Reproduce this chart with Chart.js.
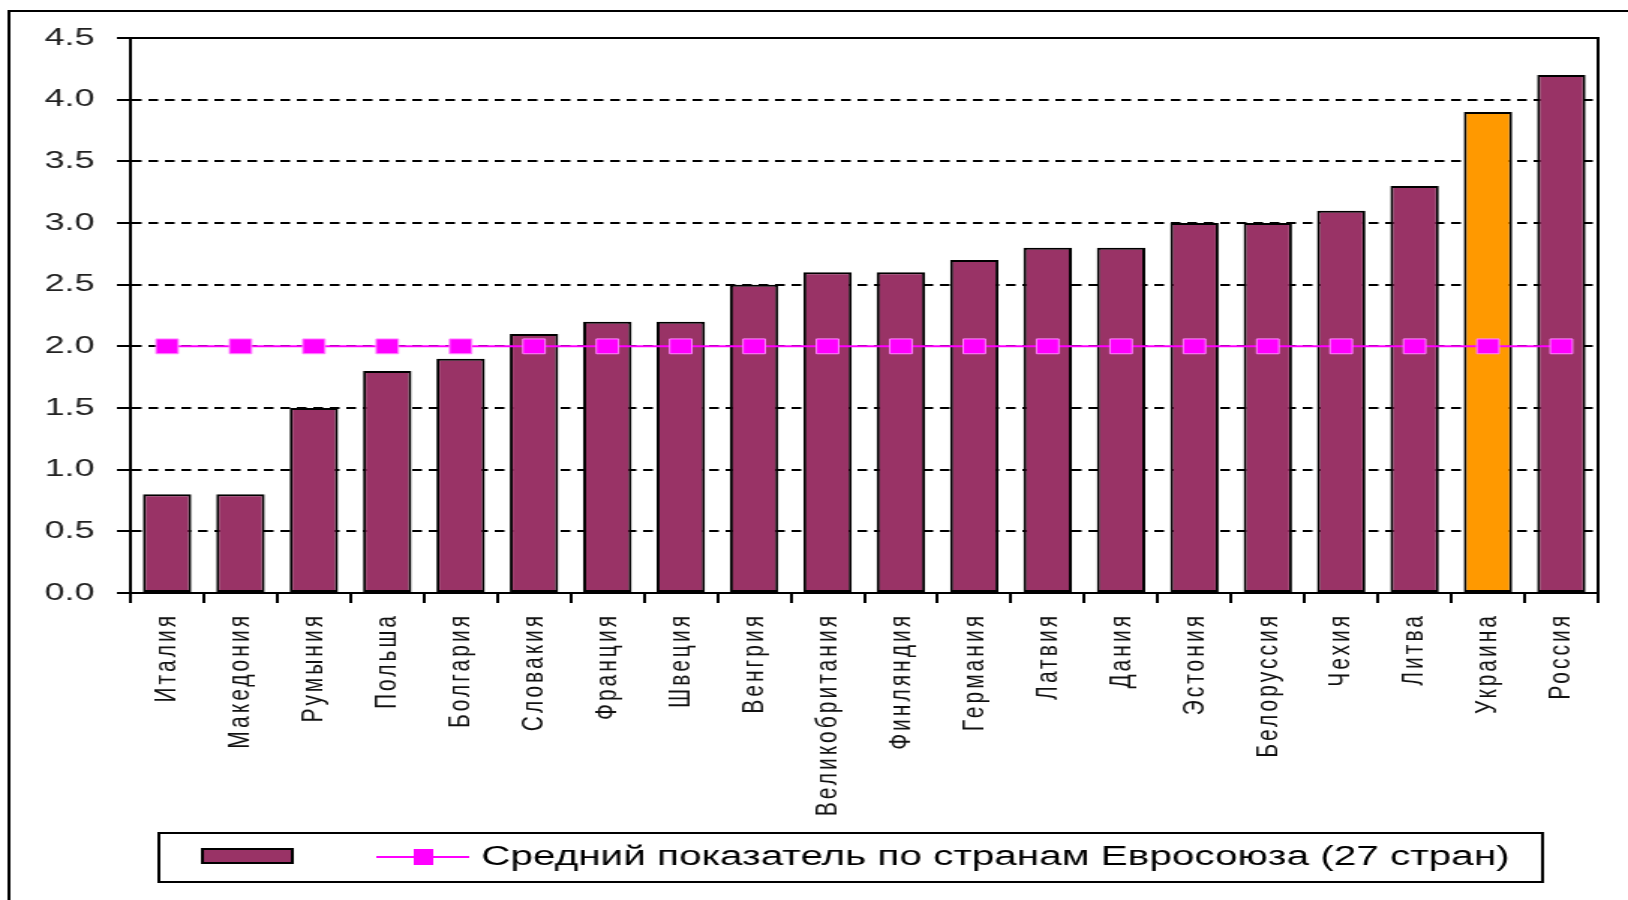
<!DOCTYPE html>
<html>
<head>
<meta charset="utf-8">
<script src="https://cdn.jsdelivr.net/npm/chart.js@4/dist/chart.umd.min.js"></script>
<style>
  html, body { margin: 0; padding: 0; background: #fff; overflow: hidden; }
  /* the original picture is stretched sideways, so draw narrow and widen it */
  #wrap { width: 1086px; height: 900px; transform: scaleX(1.49908); transform-origin: 0 0; }
</style>
</head>
<body>
<div id="wrap"><canvas id="chart" width="1086" height="900"></canvas></div>
<script>
const countries = ["Италия", "Македония", "Румыния", "Польша", "Болгария", "Словакия", "Франция", "Швеция", "Венгрия", "Великобритания",
  "Финляндия", "Германия", "Латвия", "Дания", "Эстония", "Белоруссия", "Чехия", "Литва", "Украина", "Россия"];
const values = [0.8, 0.8, 1.5, 1.8, 1.9, 2.1, 2.2, 2.2, 2.5, 2.6, 2.6, 2.7, 2.8, 2.8, 3.0, 3.0, 3.1, 3.3, 3.9, 4.2];
const euAverage = [2.0, 2.0, 2.0, 2.0, 2.0, 2.0, 2.0, 2.0, 2.0, 2.0, 2.0, 2.0, 2.0, 2.0, 2.0, 2.0, 2.0, 2.0, 2.0, 2.0];
const highlighted = ["Украина"];
const yTicks = [0, 0.5, 1.0, 1.5, 2.0, 2.5, 3.0, 3.5, 4.0, 4.5];
const legendLabel = "Средний показатель по странам Евросоюза (27 стран)";

const barColor = "#993366";
const highlightColor = "#FF9900";
const lineColor = "#FF00FF";
const font = "'Liberation Sans', Arial, sans-serif";

// frame of the plot, outer border and the legend box
const framePlugin = {
  id: "frame",
  afterDatasetsDraw(chart) {
    chart.ctx.letterSpacing = "3px"; // only the rotated country names come after this
  },
  afterDraw(chart) {
    const ctx = chart.ctx;
    const a = chart.chartArea;
    ctx.letterSpacing = "0px";
    ctx.save();
    ctx.strokeStyle = "#000";
    ctx.lineWidth = 2;
    ctx.strokeRect(a.left, a.top, a.right - a.left, a.bottom - a.top);

    // outer border (runs off the right and bottom edge)
    ctx.beginPath();
    ctx.moveTo(6, 1000);
    ctx.lineTo(6, 11);
    ctx.lineTo(1200, 11);
    ctx.stroke();

    // legend
    ctx.strokeRect(106, 833, 923, 49);
    ctx.fillStyle = barColor;
    ctx.fillRect(135, 849, 60, 14);
    ctx.strokeRect(135, 849, 60, 14);
    ctx.strokeStyle = lineColor;
    ctx.beginPath();
    ctx.moveTo(251, 857);
    ctx.lineTo(313, 857);
    ctx.stroke();
    ctx.fillStyle = lineColor;
    ctx.fillRect(276, 849, 13, 16);
    ctx.fillStyle = "#000";
    ctx.font = "27px " + font;
    ctx.textBaseline = "middle";
    ctx.fillText(legendLabel, 321, 858);
    ctx.restore();
  }
};

const ctx = document.getElementById("chart").getContext("2d");
new Chart(ctx, {
  type: "bar",
  data: {
    labels: countries,
    datasets: [{
      type: "line",
      label: legendLabel,
      data: euAverage,
      borderColor: lineColor,
      borderWidth: 2,
      backgroundColor: lineColor,
      pointStyle: "rect",
      pointRadius: 10.5,
      pointBackgroundColor: lineColor,
      pointBorderColor: "#FF88FF",
      pointBorderWidth: 1,
      order: 0
    }, {
      label: "",
      data: values,
      backgroundColor: countries.map(c => highlighted.includes(c) ? highlightColor : barColor),
      borderColor: "#000",
      borderWidth: 2,
      borderSkipped: false,
      barPercentage: 0.66,
      categoryPercentage: 1.0,
      order: 1
    }]
  },
  options: {
    responsive: false,
    animation: false,
    layout: { padding: { top: 38, right: 20, bottom: 0, left: 0 } },
    plugins: {
      legend: { display: false },
      tooltip: { enabled: false }
    },
    scales: {
      x: {
        afterFit: s => { s.height = 307; },
        grid: {
          offset: true,
          drawOnChartArea: false,
          drawTicks: true,
          tickLength: 10,
          tickColor: "#000",
          lineWidth: 2
        },
        border: { display: true, color: "#000", width: 2 },
        ticks: {
          z: 1,
          autoSkip: false,
          minRotation: 90,
          maxRotation: 90,
          padding: 10,
          color: "#111",
          font: { family: font, size: 21 }
        }
      },
      y: {
        min: 0,
        max: 4.5,
        afterFit: s => { s.width = 87; },
        afterBuildTicks: s => { s.ticks = yTicks.map(v => ({ value: v })); },
        grid: {
          color: "#000",
          lineWidth: 2,
          tickLength: 9,
          tickColor: "#000",
          tickBorderDash: []
        },
        border: { display: true, color: "#000", width: 2, dash: [6.5, 4.5] },
        ticks: {
          padding: 15,
          color: "#222",
          font: { family: font, size: 24 },
          callback: v => v.toFixed(1)
        }
      }
    }
  },
  plugins: [framePlugin]
});
</script>
</body>
</html>
